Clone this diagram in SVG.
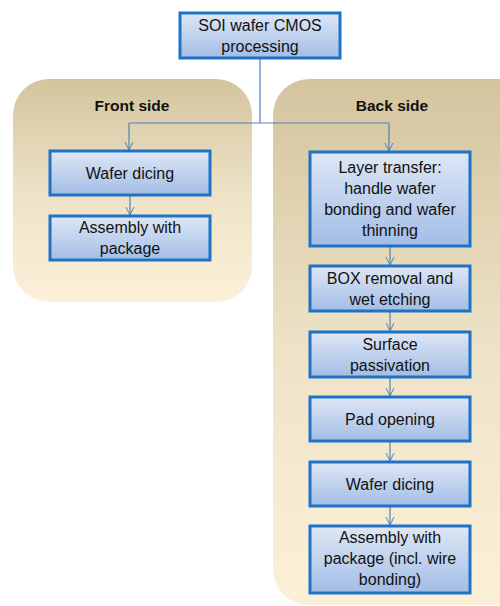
<svg xmlns="http://www.w3.org/2000/svg" width="500" height="606" viewBox="0 0 500 606">
<defs>
<linearGradient id="pan" x1="0" y1="0" x2="0" y2="1">
<stop offset="0" stop-color="#D4C49E"/>
<stop offset="0.5" stop-color="#EDE2C6"/>
<stop offset="1" stop-color="#FDF0D9"/>
</linearGradient>
<linearGradient id="box" x1="0" y1="0" x2="0" y2="1">
<stop offset="0" stop-color="#DEE7F5"/>
<stop offset="1" stop-color="#A3BDE6"/>
</linearGradient>
<marker id="ar" viewBox="0 0 10 10" refX="9" refY="5" markerWidth="10" markerHeight="10" markerUnits="userSpaceOnUse" orient="auto">
<path d="M1,1 L9,5 L1,9" fill="none" stroke="#4F81BD" stroke-width="1"/>
</marker>
<style>
.b{fill:url(#box);stroke:#1F73C6;stroke-width:3}
.t{font-family:"Liberation Sans",Arial,sans-serif;font-size:16px;fill:#111;text-anchor:middle}
.h{font-family:"Liberation Sans",Arial,sans-serif;font-size:15.5px;font-weight:bold;fill:#111;text-anchor:middle}
.c{fill:none;stroke:#4F81BD;stroke-width:1.2}
</style>
</defs>
<rect width="500" height="606" fill="#fff"/>
<g id="front-panel">
<rect x="13" y="79" width="239" height="223" rx="36" fill="url(#pan)"/>
<text class="h" x="132" y="111">Front side</text>
</g>
<g id="back-panel">
<rect x="273" y="79" width="270" height="526" rx="36" fill="url(#pan)"/>
<text class="h" x="392" y="111">Back side</text>
</g>
<g id="connectors">
<path class="c" d="M260,58 V123"/>
<path class="c" d="M129,123 H389"/>
<path class="c" d="M129,123 V150" marker-end="url(#ar)"/>
<path class="c" d="M389,123 V151" marker-end="url(#ar)"/>
<path class="c" d="M130,195 V215" marker-end="url(#ar)"/>
<path class="c" d="M390,246 V265" marker-end="url(#ar)"/>
<path class="c" d="M390,311 V331" marker-end="url(#ar)"/>
<path class="c" d="M390,377 V396" marker-end="url(#ar)"/>
<path class="c" d="M390,441 V461" marker-end="url(#ar)"/>
<path class="c" d="M390,506 V525" marker-end="url(#ar)"/>
</g>
<g id="soi">
<rect class="b" x="180" y="13" width="160" height="45"/>
<text class="t" x="260" y="31">SOI wafer CMOS</text>
<text class="t" x="260" y="52">processing</text>
</g>
<g id="f-dicing">
<rect class="b" x="50" y="151" width="160" height="44"/>
<text class="t" x="130" y="178.5">Wafer dicing</text>
</g>
<g id="f-assembly">
<rect class="b" x="50" y="216" width="160" height="44"/>
<text class="t" x="130" y="233">Assembly with</text>
<text class="t" x="130" y="254">package</text>
</g>
<g id="layer-transfer">
<rect class="b" x="310" y="152" width="160" height="94"/>
<text class="t" x="390" y="173">Layer transfer:</text>
<text class="t" x="390" y="194">handle wafer</text>
<text class="t" x="390" y="215">bonding and wafer</text>
<text class="t" x="390" y="236">thinning</text>
</g>
<g id="box-removal">
<rect class="b" x="310" y="266" width="160" height="45"/>
<text class="t" x="390" y="284">BOX removal and</text>
<text class="t" x="390" y="305">wet etching</text>
</g>
<g id="passivation">
<rect class="b" x="310" y="332" width="160" height="45"/>
<text class="t" x="390" y="350">Surface</text>
<text class="t" x="390" y="371">passivation</text>
</g>
<g id="pad-opening">
<rect class="b" x="310" y="397" width="160" height="44"/>
<text class="t" x="390" y="424.5">Pad opening</text>
</g>
<g id="b-dicing">
<rect class="b" x="310" y="462" width="160" height="44"/>
<text class="t" x="390" y="489.5">Wafer dicing</text>
</g>
<g id="b-assembly">
<rect class="b" x="310" y="526" width="160" height="67"/>
<text class="t" x="390" y="543">Assembly with</text>
<text class="t" x="390" y="564">package (incl. wire</text>
<text class="t" x="390" y="585">bonding)</text>
</g>
</svg>
